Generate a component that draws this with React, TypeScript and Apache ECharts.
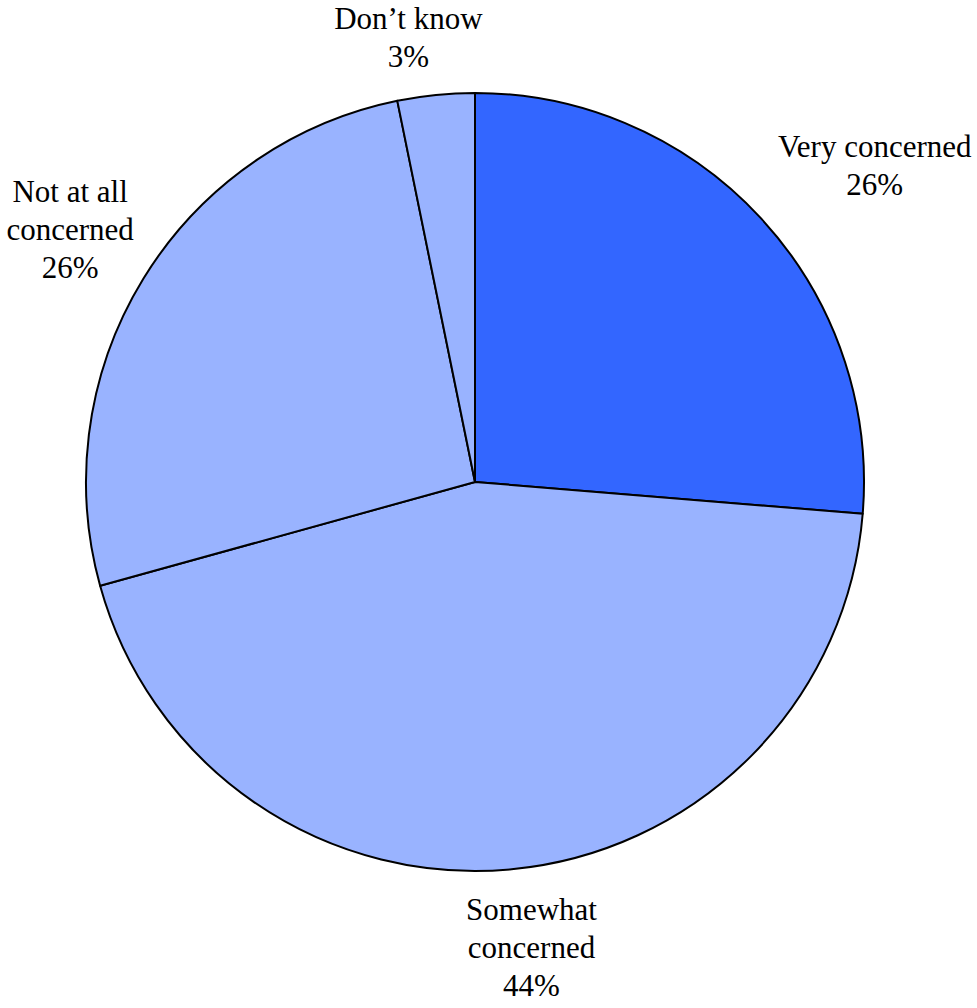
import React, { useEffect, useRef } from "react";
import * as echarts from "echarts";

const categories = ["Very concerned", "Somewhat\nconcerned", "Not at all\nconcerned", "Don\u2019t know"];
const values = [26.3, 44.4, 26.1, 3.2];
const shownPercents = [26, 44, 26, 3];
const colors = ["#3366FF", "#99B3FF", "#99B3FF", "#99B3FF"];

const W = 977;
const H = 1008;
const CX = 475;
const CY = 482;
const R = 389;
const LABEL_GAP = 10;
// small per-label nudges (layout styling, not data)
const LABEL_NUDGE: [number, number][] = [
  [35, 20],
  [13, 6],
  [7, 0],
  [-22, -2],
];

export default function App() {
  const ref = useRef<HTMLDivElement>(null);
  useEffect(() => {
    document.body.style.margin = "0";
    const chart = echarts.init(ref.current!, null, { renderer: "svg" });
    const total = values.reduce((a, b) => a + b, 0);
    const mids: number[] = [];
    let acc = 0;
    values.forEach((v) => {
      mids.push(((acc + v / 2) / total) * Math.PI * 2);
      acc += v;
    });
    chart.setOption({
      animation: false,
      backgroundColor: "#ffffff",
      series: [
        {
          type: "pie",
          center: [CX, CY],
          radius: [0, R],
          startAngle: 90,
          clockwise: true,
          avoidLabelOverlap: false,
          data: categories.map((c, i) => ({
            name: c,
            value: values[i],
            itemStyle: { color: colors[i] },
          })),
          itemStyle: { borderColor: "#000000", borderWidth: 2 },
          label: {
            show: true,
            position: "outside",
            alignTo: "none",
            overflow: "none",
            formatter: (p: any) => `${p.name}\n${shownPercents[p.dataIndex]}%`,
            fontFamily: "Liberation Serif",
            fontSize: 31,
            lineHeight: 38,
            color: "#000000",
            align: "center",
          },
          labelLine: { show: false },
          labelLayout: (p: any) => {
            const a = mids[p.dataIndex];
            const nx = Math.sin(a);
            const ny = -Math.cos(a);
            const hw = p.labelRect.width / 2;
            const hh = p.labelRect.height / 2;
            const d = R + LABEL_GAP + Math.abs(nx) * hw + Math.abs(ny) * hh;
            const [ox, oy] = LABEL_NUDGE[p.dataIndex];
            return {
              x: CX + nx * d + ox,
              y: CY + ny * d + oy,
              align: "center",
              verticalAlign: "middle",
            };
          },
        },
      ],
    });
    return () => chart.dispose();
  }, []);
  return <div ref={ref} style={{ width: W, height: H }} />;
}
